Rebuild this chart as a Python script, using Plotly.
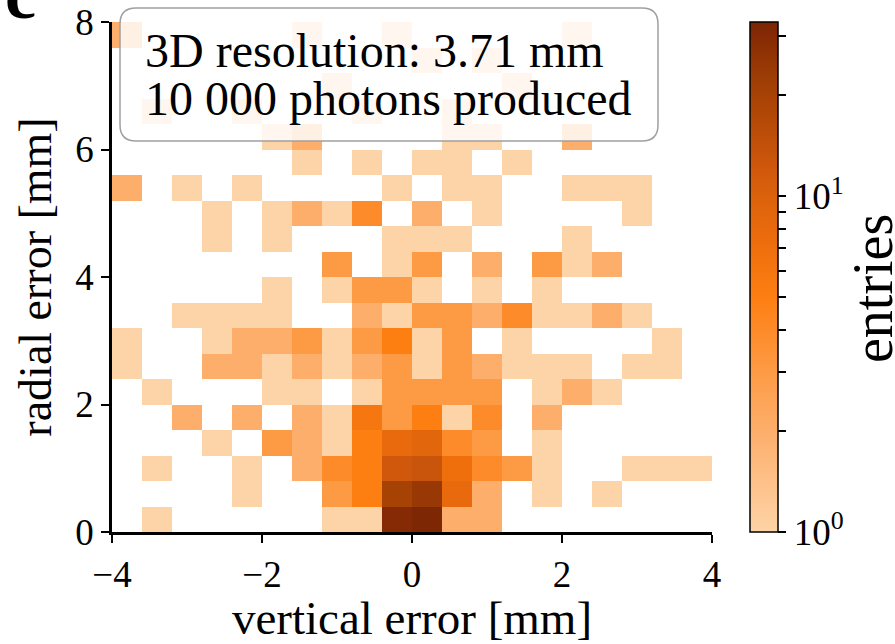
import numpy as np
import plotly.graph_objects as go

# bin centres (mm)
x_centers = [round(-3.8 + 0.4 * i, 2) for i in range(20)]
y_centers = [round(0.2 + 0.4 * j, 2) for j in range(20)]

# photon counts per bin, rows from radial 0 (bottom) to 8 mm (top)
counts = [
    [0, 1, 0, 0, 0, 0, 0, 1, 1, 30, 32, 2, 2, 0, 0, 0, 0, 0, 0, 0],
    [0, 0, 0, 0, 1, 0, 0, 3, 5, 20, 24, 8, 2, 0, 1, 0, 1, 0, 0, 0],
    [0, 1, 0, 0, 1, 0, 2, 4, 5, 12, 13, 7, 4, 3, 1, 0, 0, 1, 1, 1],
    [0, 0, 0, 1, 0, 3, 2, 1, 5, 8, 9, 4, 3, 0, 1, 0, 0, 0, 0, 0],
    [0, 0, 2, 0, 2, 0, 2, 1, 6, 3, 5, 1, 4, 0, 2, 0, 0, 0, 0, 0],
    [0, 1, 0, 0, 0, 1, 1, 0, 1, 3, 3, 3, 3, 0, 1, 2, 1, 0, 0, 0],
    [1, 0, 0, 2, 2, 1, 2, 1, 2, 3, 1, 3, 2, 1, 1, 1, 0, 1, 1, 0],
    [1, 0, 0, 1, 2, 2, 3, 1, 3, 5, 1, 3, 0, 1, 0, 0, 0, 0, 1, 0],
    [0, 0, 1, 1, 1, 1, 0, 0, 2, 1, 3, 3, 2, 4, 1, 1, 2, 1, 0, 0],
    [0, 0, 0, 0, 0, 1, 0, 1, 3, 3, 1, 0, 1, 0, 1, 0, 0, 0, 0, 0],
    [0, 0, 0, 0, 0, 0, 0, 3, 0, 1, 3, 0, 2, 0, 3, 1, 2, 0, 0, 0],
    [0, 0, 0, 1, 0, 1, 0, 0, 0, 1, 1, 1, 0, 0, 0, 1, 0, 0, 0, 0],
    [0, 0, 0, 1, 0, 1, 2, 1, 4, 0, 2, 0, 1, 0, 0, 0, 0, 1, 0, 0],
    [2, 0, 1, 0, 1, 0, 0, 0, 0, 1, 0, 1, 1, 0, 0, 1, 1, 1, 0, 0],
    [0, 0, 0, 0, 0, 0, 1, 0, 1, 0, 1, 1, 0, 1, 0, 0, 0, 0, 0, 0],
    [0, 0, 0, 0, 0, 1, 2, 0, 0, 0, 0, 1, 1, 0, 0, 2, 0, 0, 0, 0],
    [0, 1, 0, 0, 1, 0, 0, 0, 1, 0, 0, 1, 0, 0, 0, 0, 0, 0, 0, 0],
    [0, 0, 0, 0, 0, 0, 0, 1, 0, 0, 0, 0, 0, 1, 0, 0, 0, 0, 0, 0],
    [0, 0, 0, 0, 0, 0, 0, 0, 0, 0, 1, 0, 1, 0, 0, 0, 0, 0, 0, 0],
    [2, 0, 0, 0, 0, 0, 1, 0, 0, 1, 0, 0, 0, 0, 0, 1, 0, 0, 0, 0],
]

x_tickvals = [-4, -2, 0, 2, 4]
x_ticktext = ["\u22124", "\u22122", "0", "2", "4"]
y_tickvals = [0, 2, 4, 6, 8]
y_ticktext = ["0", "2", "4", "6", "8"]

cmax_count = 33
annotation_lines = ["3D resolution: 3.71 mm", "10 000 photons produced"]
colorbar_label = "entries"

FONT = "Liberation Serif"

z = np.array(counts, dtype=float)
zlog = np.where(z > 0, np.log10(np.where(z > 0, z, 1)), np.nan)
zlog = [[None if np.isnan(v) else float(v) for v in row] for row in zlog]

colorscale = [
    [0.0, "#fdd4a7"],
    [0.198, "#fdae6b"],
    [0.314, "#fd9b45"],
    [0.40, "#fd8a28"],
    [0.46, "#fd7f12"],
    [0.56, "#ef6e0d"],
    [0.66, "#db620b"],
    [0.71, "#d0580c"],
    [0.857, "#a74205"],
    [0.91, "#983905"],
    [0.973, "#852a04"],
    [1.0, "#7a2604"],
]

cb_vals = [0] + [float(np.log10(v)) for v in range(2, 10)] + [1.0, float(np.log10(20)), float(np.log10(30))]
cb_text = ["10<sup>0</sup>"] + [""] * 8 + ["10<sup>1</sup>", "", ""]

fig = go.Figure()
fig.add_trace(go.Heatmap(
    x=x_centers, y=y_centers, z=zlog,
    zmin=0, zmax=float(np.log10(cmax_count)),
    colorscale=colorscale,
    hoverinfo="skip",
    colorbar=dict(
        x=(750 - 112) / 600, xanchor="left", xpad=0,
        y=0, yanchor="bottom", ypad=0,
        len=1, lenmode="fraction", thickness=28,
        outlinecolor="black", outlinewidth=1.5,
        tickvals=cb_vals, ticktext=cb_text,
        ticks="outside", ticklen=8, tickwidth=2, tickcolor="black",
        tickfont=dict(family=FONT, size=37, color="black"),
    ),
))

fig.update_xaxes(
    range=[-4, 4], tickvals=x_tickvals, ticktext=x_ticktext,
    showline=True, linecolor="black", linewidth=2.5, mirror=False,
    ticks="outside", ticklen=8, tickwidth=2, tickcolor="black",
    showgrid=False, zeroline=False,
    tickfont=dict(family=FONT, size=37, color="black"),
    title=dict(text="vertical error [mm]", standoff=8,
               font=dict(family=FONT, size=47, color="black")),
)
fig.update_yaxes(
    range=[0, 8], tickvals=y_tickvals, ticktext=y_ticktext,
    showline=True, linecolor="black", linewidth=2.5, mirror=False,
    ticks="outside", ticklen=8, tickwidth=2, tickcolor="black",
    showgrid=False, zeroline=False,
    tickfont=dict(family=FONT, size=37, color="black"),
    title=dict(text="radial error [mm]", standoff=10,
               font=dict(family=FONT, size=46, color="black")),
)

W, H = 600.0, 510.0

# colorbar label (rotated)
fig.add_annotation(text=colorbar_label, xref="paper", yref="paper",
                   x=(873 - 112) / W, y=(532 - 289) / H, xanchor="center", yanchor="middle",
                   textangle=-90, showarrow=False,
                   font=dict(family=FONT, size=56, color="black"))

# rounded, semi-transparent text box (paper coordinates)
x0, x1 = (120 - 112) / W, (658 - 112) / W
y0, y1 = (532 - 141) / H, (532 - 8) / H
rx, ry = 16 / W, 16 / H
path = (f"M {x0+rx},{y0} L {x1-rx},{y0} Q {x1},{y0} {x1},{y0+ry} "
        f"L {x1},{y1-ry} Q {x1},{y1} {x1-rx},{y1} L {x0+rx},{y1} "
        f"Q {x0},{y1} {x0},{y1-ry} L {x0},{y0+ry} Q {x0},{y0} {x0+rx},{y0} Z")
fig.add_shape(type="path", path=path, xref="paper", yref="paper",
              fillcolor="rgba(255,255,255,0.82)",
              line=dict(color="#a0a0a0", width=1.5), layer="above")

fig.add_annotation(text=annotation_lines[0], xref="paper", yref="paper",
                   x=(143 - 112) / W, y=(532 - 50) / H, xanchor="left", yanchor="middle",
                   showarrow=False, font=dict(family=FONT, size=48, color="black"))
fig.add_annotation(text=annotation_lines[1], xref="paper", yref="paper",
                   x=(143 - 112) / W, y=(532 - 98) / H, xanchor="left", yanchor="middle",
                   showarrow=False, font=dict(family=FONT, size=48, color="black"))

# partially visible panel letter at the top-left corner
fig.add_annotation(text="<b>c</b>", xref="paper", yref="paper",
                   x=(20 - 112) / W, y=(532 + 5) / H, xanchor="center", yanchor="middle",
                   showarrow=False, font=dict(family=FONT, size=70, color="black"))

fig.update_layout(
    width=895, height=644,
    margin=dict(l=112, r=183, t=22, b=112, pad=0, autoexpand=False),
    paper_bgcolor="white", plot_bgcolor="white",
    showlegend=False,
)

fig.write_html("out.html")
